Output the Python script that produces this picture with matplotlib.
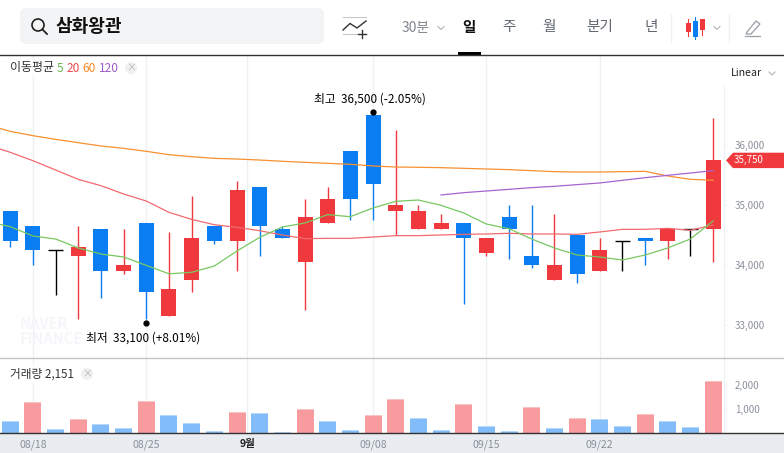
import numpy as np
from matplotlib import pyplot as plt
from matplotlib.patches import Circle, FancyBboxPatch, Polygon, Rectangle

plt.rcParams['font.family'] = ['Noto Sans CJK KR', 'DejaVu Sans']

opens = [34900, 34650, 34250, 34150, 34600, 33900, 34700, 33150, 33750, 34650, 34400,
         35300, 34600, 34050, 34700, 35900, 36500, 34900, 34600, 34600, 34700, 34200,
         34800, 34150, 33750, 34500, 33900, 34400, 34450, 34400, 34600, 34600]
closes = [34400, 34250, 34250, 34300, 33900, 34000, 33550, 33600, 34450, 34400, 35250,
          34650, 34450, 34800, 35100, 35100, 35350, 35000, 34900, 34700, 34450, 34450,
          34600, 34000, 34000, 33850, 34250, 34400, 34400, 34600, 34600, 35750]
highs = [34900, 34650, 34250, 34650, 34600, 34600, 34700, 34550, 35150, 34650, 35400,
         35300, 34650, 35100, 35300, 35900, 36500, 36250, 35000, 34850, 34700, 34450,
         35000, 35000, 34850, 34500, 34450, 34400, 34450, 34600, 34600, 36450]
lows = [34300, 34000, 33500, 33100, 33450, 33850, 33100, 33150, 33550, 34350, 33900,
        34150, 34450, 33250, 34700, 34750, 34750, 34500, 34600, 34600, 33350, 34150,
        34100, 33950, 33750, 33700, 33900, 33900, 34000, 34100, 34150, 34050]
volumes = [500, 1290, 167, 583, 375, 208, 1333, 750, 417, 83, 875, 833, 42, 1000, 500, 125,
           750, 1417, 625, 125, 1208, 292, 83, 1083, 208, 625, 583, 292, 792, 500, 250, 2151]
# volume colour is not the candle colour on this chart: 1 = red, 0 = blue
volume_up = [0, 1, 0, 1, 0, 0, 1, 0, 0, 0, 1, 0, 0, 1, 0, 0,
             1, 1, 0, 0, 1, 0, 0, 1, 0, 1, 0, 0, 1, 0, 0, 1]

# first value of the 5/20/60 lines sits one candle left of the chart
ma5 = [34730, 34645, 34490, 34440, 34290, 34190, 34140, 34000, 33860, 33885, 33990, 34240,
       34467, 34640, 34707, 34846, 34812, 34957, 35068, 35090, 35001, 34874, 34690, 34612,
       34440, 34290, 34173, 34140, 34090, 34173, 34290, 34440, 34740]
ma20 = [36006, 35884, 35745, 35590, 35434, 35328, 35190, 35073, 34884, 34767, 34678, 34634,
        34578, 34507, 34446, 34451, 34451, 34473, 34496, 34496, 34507, 34518, 34524, 34535,
        34524, 34524, 34518, 34557, 34601, 34601, 34618, 34585, 34673]
ma60 = [36340, 36234, 36162, 36101, 36045, 35990, 35951, 35901, 35845, 35812, 35784, 35773,
        35756, 35735, 35718, 35701, 35685, 35657, 35640, 35635, 35629, 35618, 35607, 35596,
        35579, 35562, 35557, 35557, 35562, 35568, 35490, 35435, 35418]
ma120 = [35174, 35212, 35240, 35268, 35296, 35318, 35346, 35374, 35418, 35462, 35501, 35540, 35579]

price_ticks = [33000, 34000, 35000, 36000]
price_labels = ['33,000', '34,000', '35,000', '36,000']
volume_ticks = [1000, 2000]
volume_labels = ['1,000', '2,000']
date_pos = [1, 6, 10.45, 16, 21, 26]
date_labels = ['08/18', '08/25', '9월', '09/08', '09/15', '09/22']

RED = '#f0393d'
BLUE = '#0b7df2'
GRID = '#eef0f5'
GRAY = '#8b9099'
TAB = '#5f6670'

W, H = 784, 453
STEP = 22.67
X0 = 10.3


def rect(x0, y0, x1, y1):
    return [x0 / W, 1 - y1 / H, (x1 - x0) / W, (y1 - y0) / H]


def price_y(p):
    return 145.4 + (36000 - p) * 0.06


fig = plt.figure(figsize=(W / 100, H / 100), dpi=100)

band = fig.add_axes(rect(0, 433, W, H), zorder=0)
band.set_facecolor('#e9ecf1')
band.set_xticks([])
band.set_yticks([])
for s in band.spines.values():
    s.set_visible(False)

ax = fig.add_axes(rect(0, 56, 724, 358), zorder=1)
vol = fig.add_axes(rect(0, 358, 724, 433), zorder=1)
for a in (ax, vol):
    a.set_xlim(-X0 / STEP, (724 - X0) / STEP)
    a.patch.set_alpha(0)
    for side in ('top', 'left', 'bottom'):
        a.spines[side].set_visible(False)
    a.spines['right'].set_color(GRID)
    a.yaxis.tick_right()
    a.grid(False)
    for p in date_pos:
        a.axvline(p, color=GRID, lw=1, zorder=0)

ax.set_ylim(36000 - (358 - 145.4) / 0.06, 36000 + (145.4 - 56) / 0.06)
ax.spines['right'].set_bounds(ax.get_ylim()[0], 36000 + (145.4 - 85) / 0.06)
ax.set_xticks([])
ax.set_yticks(price_ticks)
ax.set_yticklabels(price_labels)
ax.tick_params(axis='y', length=2, width=0.7, color=GRID, pad=6, labelsize=7, labelcolor=GRAY)

# candles
xs = np.arange(len(opens))
for i in xs:
    o, c = opens[i], closes[i]
    if o == c:
        ax.vlines(i, lows[i], highs[i], color='black', lw=1, zorder=2)
        ax.hlines(o, i - 7.5 / STEP, i + 7.5 / STEP, color='black', lw=1, zorder=2)
        continue
    col = RED if c > o else BLUE
    ax.vlines(i, lows[i], highs[i], color=col, lw=1, zorder=2)
    ax.bar(i, abs(c - o), bottom=min(o, c), width=15 / STEP, color=col, zorder=2)

# moving averages
ma_x = np.arange(-1, len(opens))
ax.plot(ma_x, ma60, color='#f79030', lw=0.9, zorder=3)
ax.plot(ma_x, ma20, color='#f26a6f', lw=0.9, zorder=3)
ax.plot(ma_x, ma5, color='#78c860', lw=0.9, zorder=3)
ax.plot(xs[19:], ma120, color='#a864d0', lw=0.9, zorder=3)

# volume
vol.set_ylim(0, 75 / 0.024)
for i in xs:
    up = volume_up[i]
    vol.bar(i, volumes[i], width=17 / STEP, color='#f9c3c4' if up else '#b5d8fb', zorder=2)
    vol.bar(i, volumes[i] - 40, width=17 / STEP, color='#f79b9e' if up else '#82bdf9', zorder=2)
vol.set_yticks(volume_ticks)
vol.set_yticklabels(volume_labels)
vol.tick_params(axis='y', length=2, width=0.7, color=GRID, pad=6, labelsize=7, labelcolor=GRAY)
vol.set_xticks(date_pos)
vol.set_xticklabels(date_labels)
vol.tick_params(axis='x', length=0, pad=4.5, labelsize=7.6, labelcolor=GRAY)
lab = vol.get_xticklabels()[2]
lab.set_color('#222222')
lab.set_fontweight('bold')

# page chrome in pixel coordinates
ov = fig.add_axes([0, 0, 1, 1], zorder=5)
ov.set_xlim(0, W)
ov.set_ylim(H, 0)
ov.axis('off')

ov.plot([0, W], [55, 55], color='#333333', lw=1)
ov.plot([0, W], [358, 358], color='#c4c4c4', lw=1)
ov.plot([0, W], [433, 433], color='#333333', lw=1)

ov.add_patch(FancyBboxPatch((26, 14), 292, 24, boxstyle='round,pad=6,rounding_size=6',
                            fc='#f3f4f6', ec='none', zorder=1))
ov.add_patch(Circle((38, 25), 6, fc='none', ec='#222222', lw=1.2, zorder=2))
ov.plot([42.5, 47], [29.5, 34], color='#222222', lw=1.3, zorder=2)
ov.text(56, 27, '삼화왕관', fontsize=13, fontweight='bold', color='#111111', va='center', zorder=2)

# add-indicator icon
ov.plot([343, 366], [17, 17], color='#c8c8c8', lw=0.8)
ov.plot([343, 366], [34, 34], color='#c8c8c8', lw=0.8)
ov.plot([343, 350, 357, 366], [30, 23.5, 28, 21], color='#333333', lw=1)
ov.plot([358, 366], [34, 34], color='#333333', lw=1)
ov.plot([362, 362], [30, 38], color='#333333', lw=1)

# tabs
ov.text(402, 28, '30분', fontsize=10, color='#80858d', va='center')
ov.plot([438, 441, 444], [26.5, 29.5, 26.5], color='#b0b4ba', lw=0.8)
ov.text(469, 27, '일', fontsize=10.5, fontweight='bold', color='#111111', va='center', ha='center')
for x, t in [(509, '주'), (549, '월'), (600, '분기'), (651, '년')]:
    ov.text(x, 27, t, fontsize=10.5, color=TAB, va='center', ha='center')
ov.add_patch(Rectangle((458, 52), 23, 3, fc='black', ec='none'))
ov.plot([671, 671], [14, 42], color=GRID, lw=1)
ov.plot([729, 729], [14, 42], color=GRID, lw=1)

# candle icon
for x, top, bot, w0, w1, col in [(688.5, 23, 32, 19, 36, RED), (695.5, 21, 37, 17, 39, BLUE),
                                 (702.5, 19, 30, 19, 35, RED)]:
    ov.plot([x, x], [w0, w1], color=col, lw=0.8)
    ov.add_patch(Rectangle((x - 2.5, top), 5, bot - top, fc=col, ec='none'))
ov.plot([714, 717, 720], [26.5, 29.5, 26.5], color='#b0b4ba', lw=0.8)

# pencil icon
ov.add_patch(Polygon([(747, 32), (756, 21), (760, 24), (751, 34), (746, 34)], closed=True,
                     fc='none', ec='#9a9ea5', lw=0.9))
ov.plot([745, 760], [35.5, 35.5], color='#9a9ea5', lw=0.9)

ov.text(731, 73, 'Linear', fontsize=7.6, color='#222222', va='center')
ov.plot([769, 772, 775], [72, 75, 72], color='#b0b4ba', lw=0.8)

# legend
ov.add_patch(Rectangle((5, 59), 135, 17, fc='white', ec='none', zorder=1))
ov.text(10, 68, '이동평균', fontsize=8.6, color='#333333', va='center', zorder=2)
for x, t, col in [(56.5, '5', '#62b84a'), (66.5, '20', '#f0474b'), (82.5, '60', '#f58a1f'),
                  (98.5, '120', '#a05cc8')]:
    ov.text(x, 68, t, fontsize=8.6, color=col, va='center', zorder=2)
ov.add_patch(Circle((131, 68), 6, fc='#f0f0f0', ec='none', zorder=2))
ov.text(131, 67.5, '×', fontsize=7, color='#b5b5b5', ha='center', va='center', zorder=3)

ov.add_patch(Rectangle((5, 365), 90, 18, fc='white', ec='none', zorder=1))
ov.text(10, 374, '거래량 2,151', fontsize=8.4, color='#333333', va='center', zorder=2)
ov.add_patch(Circle((87, 374), 6, fc='#f0f0f0', ec='none', zorder=2))
ov.text(87, 373.5, '×', fontsize=7, color='#b5b5b5', ha='center', va='center', zorder=3)

# high/low notes, the low dot goes on the later of the two equal lows
hi = int(np.argmax(highs))
lo = len(lows) - 1 - int(np.argmin(lows[::-1]))
ov.plot(X0 + hi * STEP, price_y(max(highs)) - 3, 'o', color='black', ms=3.5)
ov.plot(X0 + lo * STEP, price_y(min(lows)) + 4, 'o', color='black', ms=3.5)
ov.text(314, 99, '최고  36,500 (-2.05%)', fontsize=8.5, color='black', va='center', zorder=3)
ov.text(86, 338, '최저  33,100 (+8.01%)', fontsize=8.5, color='black', va='center', zorder=3)

# watermark
ov.text(20, 324, 'NAVER', fontsize=10.5, fontweight='bold', color='#f5f6f9', va='center', zorder=0)
ov.text(20, 339, 'FINANCE', fontsize=10.5, fontweight='bold', color='#f5f6f9', va='center', zorder=0)

# last price tag
ty = price_y(closes[-1])
ov.add_patch(Polygon([(726, ty), (733, ty - 7.7), (W, ty - 7.7), (W, ty + 7.7), (733, ty + 7.7)],
                     closed=True, fc=RED, ec='none', zorder=3))
ov.text(734, ty, '35,750', fontsize=7, color='white', va='center', zorder=4)

fig.savefig('out.png', dpi=100)
